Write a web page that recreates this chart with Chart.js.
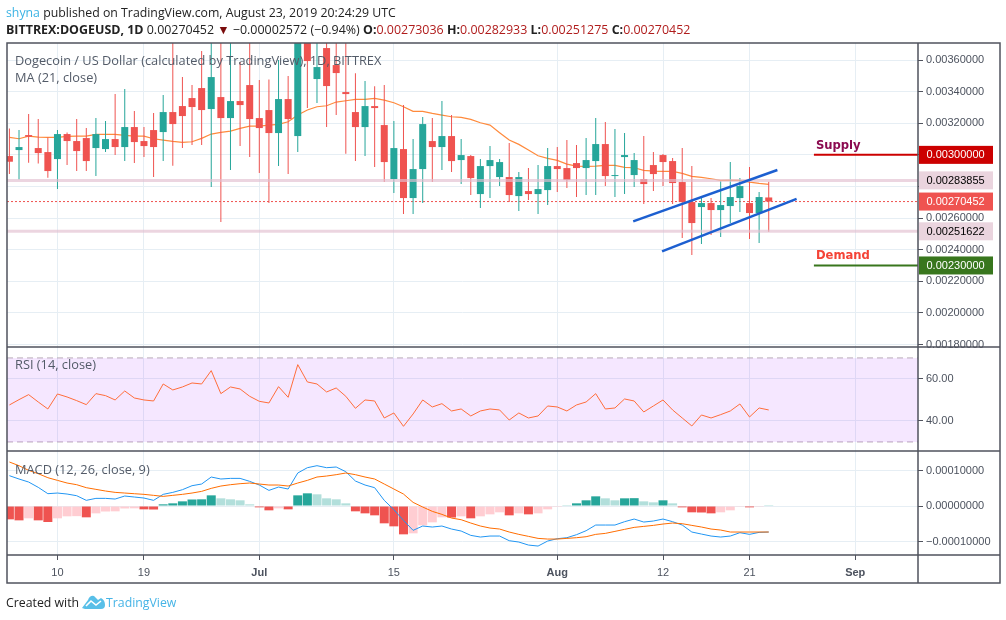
<!DOCTYPE html>
<html>
<head>
<meta charset="utf-8">
<title>DOGEUSD</title>
<script src="https://cdn.jsdelivr.net/npm/chart.js@4/dist/chart.umd.js"></script>
<style>
  html, body { margin: 0; padding: 0; background: #fff; }
  body { width: 1006px; height: 620px; position: relative; overflow: hidden; font-family: "Open Sans", sans-serif; }
  #chart { position: absolute; left: 0; top: 0; }
  .txt { position: absolute; white-space: nowrap; font-size: 12.3px; line-height: 16px; }
  .head { color: #222; }
  .pane { color: #535b68; font-size: 12.8px; }
  .red { color: #b01c1c; }
  b { font-weight: 700; }
</style>
</head>
<body>
<canvas id="chart" width="1006" height="620"></canvas>
<div class="txt head" style="left:6px;top:5px"><span style="color:#3bb3e4">shyna</span> published on TradingView.com, August 23, 2019 20:24:29 UTC</div>
<div class="txt head" style="left:6px;top:22px;font-size:12.45px"><b>BITTREX:DOGEUSD, 1D</b> 0.00270452 <span style="color:#7a0c0c">▼</span> −0.00002572 (−0.94%) <b>O:</b><span class="red">0.00273036</span> <b>H:</b><span class="red">0.00282933</span> <b>L:</b><span class="red">0.00251275</span> <b>C:</b><span class="red">0.00270452</span></div>
<div class="txt pane" style="left:15px;top:52px">Dogecoin / US Dollar (calculated by TradingView), 1D, BITTREX</div>
<div class="txt pane" style="left:15px;top:69px">MA (21, close)</div>
<div class="txt pane" style="left:15px;top:356px">RSI (14, close)</div>
<div class="txt pane" style="left:15px;top:461px">MACD (12, 26, close, 9)</div>
<div class="txt head" style="left:6px;top:595px">Created with</div>
<svg style="position:absolute;left:82px;top:594px" width="24" height="16" viewBox="0 0 24 16"><path d="M0 14 L6 6 Q8 1 12 2 L16 6 L19 4 Q23 6 23 11 Q23 15 19 15 L3 15 Z" fill="#58bfe8"/><path d="M4 12 L9 7 L14 11 L19 7" fill="none" stroke="#fff" stroke-width="1.6"/></svg>
<div class="txt" style="left:106px;top:595px;color:#46b4e6">TradingView</div>
<script>
// first candle is June 5 2019, x axis counts days from June 10
const firstDay = -5;
const priceUnit = 1e-5;
const macdUnit = 1e-6;

const opens = [
  299.24, 303.04, 312.53, 304.31, 301.77, 297.34, 313.17, 308.74, 310.63, 304.31,
  303.67, 310.0, 304.94, 317.6, 308.74, 315.7, 314.43, 327.09, 330.89, 335.95,
  342.28, 328.99, 336.58, 323.29, 334.05, 344.18, 323.29, 328.36, 313.8, 335.32,
  311.9, 390, 347.98, 367.6, 356.84, 339.75, 327.09, 317.59, 330.88, 318.86,
  284.68, 303.67, 272.66, 291.01, 308.73, 304.94, 311.9, 296.71, 299.24, 275.19,
  292.91, 285.95, 285.95, 273.92, 277.09, 275.19, 277.72, 292.91, 291.64, 294.81,
  291.65, 296.08, 306.84, 286.59, 298.61, 287.22, 284.69, 293.55, 299.88, 296.08,
  282.79, 270.13, 266.97, 269.5, 265.07, 267.6, 272.66, 269.5, 263.17, 273.04
];
const closes = [
  295.66, 304.94, 311.48, 301.14, 289.75, 313.17, 308.74, 302.41, 296.08, 313.17,
  310.0, 304.94, 317.6, 308.1, 305.57, 304.94, 327.09, 319.5, 324.56, 330.26,
  328.36, 349.24, 323.29, 334.05, 331.52, 322.66, 316.96, 313.8, 335.32, 322.66,
  392, 359.37, 355.57, 343.55, 351.77, 338.48, 317.59, 330.88, 329.62, 295.44,
  304.3, 272.66, 291.01, 319.49, 304.94, 311.9, 296.07, 299.87, 285.31, 292.91,
  296.71, 295.44, 274.56, 285.95, 275.19, 278.35, 292.91, 291.01, 284.05, 291.64,
  296.71, 306.84, 286.59, 287.22, 299.88, 296.71, 281.52, 287.85, 295.45, 282.16,
  270.13, 256.84, 269.5, 265.07, 268.23, 273.3, 280.26, 263.17, 273.3, 270.45
];
const highs = [
  316.76, 315.7, 325.82, 322.66, 311.06, 315.7, 314.22, 322.66, 316.96, 323.29,
  321.39, 338.48, 341.65, 327.72, 317.6, 326.46, 337.85, 375, 349.24, 344.18,
  365.7, 380, 378, 376, 358.74, 382, 347.34, 347.77, 360, 349.88,
  400, 396, 378, 385, 380, 378, 351.6, 346.7, 343.5, 344.2,
  321.39, 331.52, 310, 323.92, 323.29, 334.05, 325.19, 310, 299.87, 297.34,
  305.57, 297.34, 307.47, 289.11, 291.64, 293.54, 304.3, 304.94, 309.37, 306.2,
  310.64, 323.3, 320.77, 316.33, 313.8, 301.15, 311.9, 301.78, 300.51, 297.98,
  304.31, 292.92, 272.66, 272.66, 283.42, 295.45, 285.32, 292.28, 276.46, 282.93
];
const lows = [
  287.85, 284.47, 295.02, 294.6, 285.53, 278.36, 293.55, 289.75, 289.75, 286.58,
  301.77, 299.88, 296.08, 294.81, 298.61, 285.95, 296.08, 293.12, 304.31, 306.2,
  306.2, 279.62, 257.47, 290.38, 305.57, 298.61, 288.48, 269.5, 292.91, 287.85,
  301.77, 329.62, 332.79, 317.6, 325.19, 300.72, 296.07, 299.24, 292.28, 282.78,
  275.82, 262.53, 262.53, 269.49, 282.78, 290.38, 289.11, 281.52, 274.56, 266.33,
  272.66, 280.25, 270.13, 264.43, 271.39, 262.53, 268.23, 276.45, 278.99, 273.29,
  274.56, 274.56, 280.26, 273.3, 275.2, 279.63, 268.87, 277.09, 280.26, 268.87,
  247.35, 236.59, 243.55, 249.25, 247.98, 256.84, 263.8, 246.72, 244.18, 251.28
];
const maValues = [
  311.06, 310.21, 311.9, 311.27, 311.06, 311.06, 311.69, 311.9, 311.9, 312.96,
  312.96, 312.96, 312.32, 311.9, 311.9, 310.21, 309.37, 308.53, 307.89, 308.31,
  310.42, 313.17, 314.22, 315.07, 316.75, 318.23, 318.23, 318.86, 319.28, 320.97,
  325.19, 328.36, 330.47, 331.1, 333.42, 334.26, 335.1, 335.1, 335.74, 334.68,
  332.99, 330.46, 327.51, 327.51, 326.24, 325.19, 324.13, 323.71, 322.45, 320.34,
  318.86, 314.01, 309.37, 306.62, 303.04, 299.45, 297.76, 296.5, 294.18, 292.91,
  292.71, 292.92, 293.34, 293.34, 292.07, 291.86, 290.17, 289.75, 289.54, 289.54,
  288.28, 286.38, 285.74, 284.9, 283.85, 284.06, 283.85, 282.79, 281.95, 281.31
];

const rsiValues = [
  47.61, 50.15, 52.53, 49.03, 45.70, 52.84, 51.41, 49.67, 47.76, 53.00,
  52.05, 49.99, 54.27, 50.94, 49.99, 49.51, 57.60, 54.75, 56.18, 58.08,
  57.60, 63.95, 53.00, 56.18, 55.22, 51.73, 49.35, 48.56, 56.33, 51.26,
  66.81, 58.56, 57.60, 53.80, 55.70, 51.73, 46.02, 49.99, 49.51, 41.42,
  43.80, 37.45, 43.32, 49.99, 46.65, 48.24, 44.75, 45.70, 42.37, 44.75,
  45.70, 45.23, 40.46, 43.80, 41.42, 42.37, 47.13, 46.65, 44.75, 47.61,
  49.03, 53.00, 45.70, 46.18, 50.46, 49.51, 44.27, 47.13, 49.99, 45.23,
  41.42, 37.61, 42.84, 41.42, 43.00, 44.75, 48.08, 41.89, 46.18, 45.23
];

const macdValues = [
  85.4, 76.0, 67.5, 52.5, 34.7, 36.5, 33.7, 29.0, 15.9, 21.5,
  21.5, 19.6, 28.1, 25.3, 22.4, 15.9, 32.8, 38.4, 45.9, 57.2,
  61.9, 81.6, 76.0, 77.8, 77.8, 69.4, 59.1, 44.0, 53.4, 47.8,
  92.9, 107.9, 113.5, 107.9, 109.8, 96.6, 70.3, 59.1, 51.6, 15.9,
  -10.4, -40.5, -68.6, -56.4, -59.2, -56.4, -64.9, -70.5, -82.7, -87.4,
  -84.6, -84.6, -97.7, -101.5, -110.0, -112.8, -98.7, -92.1, -89.3, -80.8,
  -69.6, -53.6, -53.6, -53.6, -44.2, -36.7, -45.2, -42.3, -36.7, -44.2,
  -53.6, -73.3, -79.0, -84.6, -87.4, -84.6, -75.2, -79.9, -74.3, -73.3
];
const signalValues = [
  123.9, 113.5, 100.4, 91.0, 79.7, 72.2, 64.7, 60.0, 51.6, 46.9,
  42.2, 38.4, 36.5, 34.6, 32.8, 30.0, 27.1, 30.0, 32.8, 36.5,
  41.2, 49.7, 56.2, 60.0, 62.8, 64.7, 61.9, 59.1, 59.1, 56.2,
  64.7, 72.2, 81.6, 84.4, 88.2, 92.9, 88.2, 81.6, 76.0, 61.9,
  47.8, 33.7, 10.2, -2.9, -15.1, -23.6, -33.9, -38.6, -48.0, -56.4,
  -62.1, -64.9, -73.3, -79.9, -85.5, -91.2, -93.1, -93.1, -91.2, -89.3,
  -86.5, -79.9, -77.1, -71.5, -65.8, -60.2, -57.4, -54.6, -50.8, -48.0,
  -49.9, -54.6, -59.2, -64.9, -67.7, -73.3, -73.3, -73.3, -73.3, -73.3
];
const histValues = [
  -37.6, -40.4, -34.7, -40.4, -45.1, -34.7, -29.1, -28.6, -31.9, -20.7,
  -15.5, -15.0, -7.0, -6.6, -9.4, -9.9, 4.7, 7.5, 13.1, 18.3,
  18.8, 30.0, 21.6, 18.8, 16.0, 4.7, -3.8, -12.2, -6.6, -9.4,
  30.0, 35.7, 32.9, 21.6, 18.8, 7.5, -15.0, -20.7, -26.3, -48.8,
  -57.3, -79.8, -77.0, -54.5, -46.0, -31.9, -32.5, -29.1, -34.7, -29.1,
  -23.5, -17.8, -26.3, -20.7, -23.5, -20.7, -9.4, -0.3, 1.9, 7.5,
  16.0, 27.2, 21.6, 16.0, 21.6, 22.1, 13.1, 10.3, 16.0, 7.5,
  -3.8, -17.8, -18.3, -20.7, -17.8, -12.2, -0.5, -3.8, -0.5, 1.9
];

const priceTicks = [0.0036, 0.0034, 0.0032, 0.0030, 0.0028, 0.0026, 0.0024, 0.0022, 0.0020, 0.0018];
const rsiTicks = [60, 40];
const macdTicks = [0.0001, 0, -0.0001];
const xTickDays = [0, 9, 21, 35, 52, 63, 72, 83];
const xTickLabels = ['10', '19', 'Jul', '15', 'Aug', '12', '21', 'Sep'];
const monthLabels = ['Jul', 'Aug', 'Sep'];

const xMin = -5.25, xMax = 89.53;
const channelUpper = [[59.9, 0.002579], [74.9, 0.002904]];
const channelLower = [[62.9, 0.002389], [76.9, 0.002722]];
const supplyLevel = 0.0030, demandLevel = 0.0023, levelStart = 78.7;
const hLine1 = 0.00283855, hLine2 = 0.00251622, lastPrice = 0.00270452;

const up = '#26a69a', down = '#ef5350', gridColor = '#e6eef4', frameColor = '#50535e', tickText = '#4c525e';

const days = opens.map((_, i) => firstDay + i);
const series = (vals, k) => vals.map((v, i) => ({ x: days[i], y: v * k }));
const hLine = (y, from) => [{ x: from === undefined ? xMin : from, y: y }, { x: xMax, y: y }];
const segment = seg => seg.map(p => ({ x: p[0], y: p[1] }));
const candleColor = i => closes[i] >= opens[i] ? up : down;

function histColor(c) {
  const i = c.dataIndex, v = histValues[i];
  const rising = i > 0 && v > histValues[i - 1];
  if (v >= 0) return rising ? up : '#b2dfdb';
  return rising ? '#ffcdd2' : down;
}

const lineBase = { type: 'line', pointRadius: 0, borderWidth: 1, tension: 0, xAxisID: 'x' };
const barBase = { type: 'bar', grouped: false, inflateAmount: 0, borderWidth: 0, xAxisID: 'x' };

const datasets = [
  // main pane
  Object.assign({}, lineBase, { yAxisID: 'y', order: 10, data: series(maValues, priceUnit), borderColor: '#ff8a3c', borderWidth: 1.2 }),
  Object.assign({}, barBase, { yAxisID: 'y', order: 8, barThickness: 1, data: days.map((d, i) => ({ x: d, y: [lows[i] * priceUnit, highs[i] * priceUnit] })), backgroundColor: c => candleColor(c.dataIndex) }),
  Object.assign({}, barBase, { yAxisID: 'y', order: 7, barThickness: 7, data: days.map((d, i) => ({ x: d, y: [opens[i] * priceUnit, closes[i] * priceUnit] })), backgroundColor: c => candleColor(c.dataIndex) }),
  Object.assign({}, lineBase, { yAxisID: 'y', order: 9, data: hLine(lastPrice), borderColor: down, borderDash: [2, 2] }),
  Object.assign({}, lineBase, { yAxisID: 'y', order: 5, data: hLine(hLine1), borderColor: 'rgba(226,190,208,0.65)', borderWidth: 3 }),
  Object.assign({}, lineBase, { yAxisID: 'y', order: 5, data: hLine(hLine2), borderColor: 'rgba(226,190,208,0.65)', borderWidth: 3 }),
  Object.assign({}, lineBase, { yAxisID: 'y', order: 4, data: segment(channelUpper), borderColor: '#1c5fd0', borderWidth: 2.5 }),
  Object.assign({}, lineBase, { yAxisID: 'y', order: 4, data: segment(channelLower), borderColor: '#1c5fd0', borderWidth: 2.5 }),
  Object.assign({}, lineBase, { yAxisID: 'y', order: 4, data: hLine(supplyLevel, levelStart), borderColor: '#cc0000', borderWidth: 2 }),
  Object.assign({}, lineBase, { yAxisID: 'y', order: 4, data: hLine(demandLevel, levelStart), borderColor: '#38761d', borderWidth: 2 }),
  // rsi pane
  Object.assign({}, lineBase, { yAxisID: 'yRsi', order: 3, data: hLine(70), borderColor: '#b8aab8', borderDash: [6, 4], fill: { value: 30 }, backgroundColor: 'rgba(153,21,255,0.1)' }),
  Object.assign({}, lineBase, { yAxisID: 'yRsi', order: 3, data: hLine(30), borderColor: '#b8aab8', borderDash: [6, 4] }),
  Object.assign({}, lineBase, { yAxisID: 'yRsi', order: 2, data: series(rsiValues, 1), borderColor: '#ff6d3a' }),
  // macd pane
  Object.assign({}, barBase, { yAxisID: 'yMacd', order: 3, barThickness: 9, data: series(histValues, macdUnit), backgroundColor: histColor }),
  Object.assign({}, lineBase, { yAxisID: 'yMacd', order: 2, data: series(macdValues, macdUnit), borderColor: '#2196f3' }),
  Object.assign({}, lineBase, { yAxisID: 'yMacd', order: 1, data: series(signalValues, macdUnit), borderColor: '#ff6d00' })
];

function yAxis(min, max, weight, ticks, fmt, order) {
  return {
    type: 'linear', position: 'right', stack: 'panes', stackWeight: weight, weight: order, min: min, max: max,
    border: { display: false },
    grid: { color: gridColor, tickLength: 5, tickColor: frameColor, lineWidth: 1 },
    ticks: { padding: 3, color: tickText, font: { family: 'Liberation Sans', size: 11 }, callback: fmt, autoSkip: false },
    afterBuildTicks: s => { s.ticks = ticks.map(v => ({ value: v })); },
    afterFit: s => { s.width = 82; }
  };
}
const fmt8 = v => (v < 0 ? '−' : '') + Math.abs(v).toFixed(8);
const fmt2 = v => v.toFixed(2);

const panelFrame = {
  id: 'panelFrame',
  afterDraw(chart) {
    const c = chart.ctx, a = chart.chartArea, s = chart.scales;
    c.save();
    c.strokeStyle = frameColor;
    c.lineWidth = 1.5;
    c.strokeRect(a.left, a.top, 1000 - a.left, s.x.bottom - a.top);
    c.beginPath();
    [s.y.bottom, s.yRsi.bottom, s.yMacd.bottom].forEach(y => { c.moveTo(a.left, y); c.lineTo(1000, y); });
    c.moveTo(a.right, a.top); c.lineTo(a.right, s.x.bottom);
    c.stroke();
    c.restore();
  }
};

const priceTags = {
  id: 'priceTags',
  afterDraw(chart) {
    const c = chart.ctx, a = chart.chartArea, y = chart.scales.y;
    const tags = [
      [supplyLevel, '#cc0000', '#fff'],
      [hLine1, '#ead4de', '#000'],
      [lastPrice, down, '#fff'],
      [hLine2, '#ead4de', '#000'],
      [demandLevel, '#38761d', '#fff']
    ];
    c.save();
    c.textBaseline = 'middle';
    c.textAlign = 'left';
    tags.forEach(t => {
      const py = y.getPixelForValue(t[0]);
      c.fillStyle = t[1];
      c.fillRect(a.right + 1, py - 9, 74, 18);
      c.fillStyle = t[2];
      c.font = '11px "Liberation Sans"';
      c.fillText(t[0].toFixed(8), a.right + 8.5, py + 0.5);
    });
    const lx = chart.scales.x.getPixelForValue(levelStart) + 2;
    c.font = 'bold 11.6px "DejaVu Sans"';
    c.fillStyle = '#8b0a50';
    c.fillText('Supply', lx, y.getPixelForValue(supplyLevel) - 9);
    c.fillStyle = '#f44336';
    c.fillText('Demand', lx, y.getPixelForValue(demandLevel) - 9);
    c.restore();
  }
};

new Chart(document.getElementById('chart'), {
  data: { datasets: datasets },
  options: {
    responsive: false,
    animation: false,
    layout: { padding: { left: 7, top: 43, right: 6, bottom: 37 } },
    plugins: { legend: { display: false }, tooltip: { enabled: false }, title: { display: false } },
    scales: {
      x: {
        type: 'linear', min: xMin, max: xMax, position: 'bottom', offset: false,
        border: { display: false },
        grid: { offset: false, color: gridColor, tickLength: 5, tickColor: frameColor, lineWidth: 1 },
        ticks: {
          color: tickText, padding: 6, maxRotation: 0, autoSkip: false, includeBounds: false,
          callback: v => xTickLabels[xTickDays.indexOf(v)],
          font: c => ({ family: 'Liberation Sans', size: 11, weight: c.tick && monthLabels.includes(xTickLabels[xTickDays.indexOf(c.tick.value)]) ? 'bold' : 'normal' })
        },
        afterBuildTicks: s => { s.ticks = xTickDays.map(v => ({ value: v })); },
        afterFit: s => { s.height = 28; }
      },
      y: yAxis(0.001784, 0.003708, 304, priceTicks, fmt8, 1),
      yRsi: yAxis(25.7, 75.2, 104, rsiTicks, fmt2, 2),
      yMacd: yAxis(-0.000138, 0.0001549, 104, macdTicks, fmt8, 3)
    }
  },
  plugins: [panelFrame, priceTags]
});
</script>
</body>
</html>
